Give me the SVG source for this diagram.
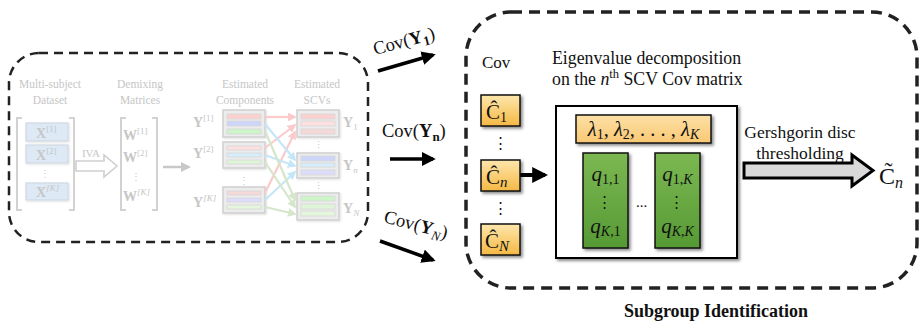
<svg xmlns="http://www.w3.org/2000/svg" width="921" height="322" viewBox="0 0 921 322" font-family="'Liberation Serif', 'Times New Roman', 'DejaVu Serif', serif">
<defs>
<style>
text{font-family:'Liberation Serif','Times New Roman','DejaVu Serif',serif}
.t{fill:#111}
.fa{fill:#c6c6c6}
.dl{fill:none;stroke:#222;stroke-width:2.5;stroke-dasharray:9 6}
.dr{fill:none;stroke:#222;stroke-width:3.5;stroke-dasharray:11 7}
.br{fill:none;stroke:#d2d2d2;stroke-width:2}
.xb{fill:#dde9f5;stroke:#cfd9e3;stroke-width:1.2}
.cb{fill:#ececec;stroke:#d0d0d0;stroke-width:1.5}
.ob{fill:url(#og);stroke:#111;stroke-width:1.5}
.gb{fill:url(#gg);stroke:#111;stroke-width:1.5}
.ka{stroke:#000;stroke-width:3.5;fill:none}
</style>
<linearGradient id="og" x1="0" y1="0" x2="0" y2="1"><stop offset="0" stop-color="#fde7ad"/><stop offset="1" stop-color="#f5b843"/></linearGradient>
<linearGradient id="lg" x1="0" y1="0" x2="0" y2="1"><stop offset="0" stop-color="#fde0a6"/><stop offset="1" stop-color="#f9c873"/></linearGradient>
<linearGradient id="gg" x1="0" y1="0" x2="0" y2="1"><stop offset="0" stop-color="#7cb852"/><stop offset="1" stop-color="#569a34"/></linearGradient>
<filter id="sh" x="-20%" y="-20%" width="150%" height="150%"><feDropShadow dx="2" dy="2" stdDeviation="1.5" flood-color="#000" flood-opacity="0.45"/></filter>
<filter id="sl" x="-20%" y="-20%" width="150%" height="150%"><feDropShadow dx="1" dy="1" stdDeviation="1.2" flood-color="#000" flood-opacity="0.12"/></filter>
<marker id="ah" viewBox="0 0 10 10" refX="8" refY="5" markerWidth="4" markerHeight="4" orient="auto"><path d="M0,0 L10,5 L0,10 z" fill="#000"/></marker>
<marker id="mr" viewBox="0 0 10 10" refX="8" refY="5" markerWidth="4" markerHeight="4" orient="auto"><path d="M0,0 L10,5 L0,10 z" fill="#fbcaca"/></marker>
<marker id="mb" viewBox="0 0 10 10" refX="8" refY="5" markerWidth="4" markerHeight="4" orient="auto"><path d="M0,0 L10,5 L0,10 z" fill="#c5e6f8"/></marker>
<marker id="mg" viewBox="0 0 10 10" refX="8" refY="5" markerWidth="4" markerHeight="4" orient="auto"><path d="M0,0 L10,5 L0,10 z" fill="#d5e6cb"/></marker>
<marker id="mgr" viewBox="0 0 10 10" refX="8" refY="5" markerWidth="4" markerHeight="4" orient="auto"><path d="M0,0 L10,5 L0,10 z" fill="#c8c8c8"/></marker>
</defs>
<rect width="921" height="322" fill="#fff"/>

<g id="pipeline">
<rect class="dl" x="9" y="53" width="359" height="189" rx="30"/>
<g id="dataset">
<text class="fa" x="50" y="88" font-size="11.5" text-anchor="middle">Multi-subject</text>
<text class="fa" x="50" y="104" font-size="11.5" text-anchor="middle">Dataset</text>
<path class="br" d="M22,118 H17 V210 H22 M69,118 H74 V210 H69"/>
<g filter="url(#sl)">
<rect class="xb" x="26" y="123" width="42" height="18"/>
<rect class="xb" x="26" y="145" width="42" height="18"/>
<rect class="xb" x="26" y="183" width="42" height="17"/>
</g>
<text class="fa" x="36" y="138" font-size="14" font-weight="bold">X<tspan font-size="9" font-weight="normal" dy="-6">[1]</tspan></text>
<text class="fa" x="36" y="160" font-size="14" font-weight="bold">X<tspan font-size="9" font-weight="normal" dy="-6">[2]</tspan></text>
<text class="fa" x="36" y="197" font-size="14" font-weight="bold">X<tspan font-size="9" font-weight="normal" font-style="italic" dy="-6">[K]</tspan></text>
<text class="fa" x="45" y="177" font-size="10" text-anchor="middle">⋮</text>
</g>
<g id="iva">
<text class="fa" x="91" y="157" font-size="11" text-anchor="middle">IVA</text>
<path d="M76,161 H104 V155 L117,166 L104,177 V171 H76 Z" fill="#fff" stroke="#cfcfcf" stroke-width="1.6"/>
</g>
<g id="demixing">
<text class="fa" x="140" y="88" font-size="11.5" text-anchor="middle">Demixing</text>
<text class="fa" x="140" y="104" font-size="11.5" text-anchor="middle">Matrices</text>
<path class="br" d="M126,118 H121 V210 H126 M152,118 H157 V210 H152"/>
<text class="fa" x="123" y="140" font-size="14" font-weight="bold">W<tspan font-size="9" font-weight="normal" dy="-6">[1]</tspan></text>
<text class="fa" x="123" y="162" font-size="14" font-weight="bold">W<tspan font-size="9" font-weight="normal" dy="-6">[2]</tspan></text>
<text class="fa" x="136" y="180" font-size="10" text-anchor="middle">⋮</text>
<text class="fa" x="123" y="201" font-size="14" font-weight="bold">W<tspan font-size="9" font-weight="normal" font-style="italic" dy="-6">[K]</tspan></text>
</g>
<line x1="163" y1="167" x2="189" y2="167" stroke="#c8c8c8" stroke-width="2.5" marker-end="url(#mgr)"/>
<g id="components">
<text class="fa" x="245" y="88" font-size="11.5" text-anchor="middle">Estimated</text>
<text class="fa" x="245" y="104" font-size="11.5" text-anchor="middle">Components</text>
<text class="fa" x="193" y="127" font-size="14" font-weight="bold">Y<tspan font-size="9" font-weight="normal" dy="-6">[1]</tspan></text>
<text class="fa" x="193" y="158" font-size="14" font-weight="bold">Y<tspan font-size="9" font-weight="normal" dy="-6">[2]</tspan></text>
<text class="fa" x="193" y="207" font-size="14" font-weight="bold">Y<tspan font-size="9" font-weight="normal" font-style="italic" dy="-6">[K]</tspan></text>
<text class="fa" x="244" y="184" font-size="10" text-anchor="middle">⋮</text>
<g filter="url(#sl)">
<rect class="cb" x="223" y="110" width="42" height="27"/>
<rect class="cb" x="223" y="142" width="42" height="26"/>
<rect class="cb" x="223" y="187" width="42" height="26"/>
</g>
<g stroke="#d6d6d6" stroke-width="0.8">
<rect x="227" y="114" width="34" height="5" fill="#fcd0cf"/>
<rect x="227" y="121" width="34" height="5" fill="#cdd6fa"/>
<rect x="227" y="129" width="34" height="5" fill="#cdf5c8"/>
<rect x="227" y="146" width="34" height="4" fill="#fde0df"/>
<rect x="227" y="153" width="34" height="4" fill="#d6eefb"/>
<rect x="227" y="160" width="34" height="4" fill="#dff5d8"/>
<rect x="227" y="191" width="34" height="4" fill="#f5d8d8"/>
<rect x="227" y="198" width="34" height="4" fill="#dcdcfb"/>
<rect x="227" y="205" width="34" height="4" fill="#e4f7dc"/>
</g>
</g>
<g id="scvs">
<text class="fa" x="317" y="88" font-size="11.5" text-anchor="middle">Estimated</text>
<text class="fa" x="317" y="104" font-size="11.5" text-anchor="middle">SCVs</text>
<g filter="url(#sl)">
<rect class="cb" x="297" y="110" width="42" height="27"/>
<rect class="cb" x="297" y="153" width="42" height="25"/>
<rect class="cb" x="297" y="193" width="42" height="27"/>
</g>
<g stroke="#d6d6d6" stroke-width="0.8">
<rect x="301" y="114" width="34" height="5" fill="#fcd0cf"/>
<rect x="301" y="121" width="34" height="5" fill="#fde0df"/>
<rect x="301" y="129" width="34" height="5" fill="#f5d8d8"/>
<rect x="301" y="156" width="34" height="5" fill="#cdd6fa"/>
<rect x="301" y="163" width="34" height="4" fill="#d6eefb"/>
<rect x="301" y="170" width="34" height="5" fill="#dcdcfb"/>
<rect x="301" y="196" width="34" height="5" fill="#cdf5c8"/>
<rect x="301" y="204" width="34" height="5" fill="#dff5d8"/>
<rect x="301" y="211" width="34" height="5" fill="#e4f7dc"/>
</g>
<text class="fa" x="318" y="148" font-size="9" text-anchor="middle">⋮</text>
<text class="fa" x="318" y="189" font-size="9" text-anchor="middle">⋮</text>
<text class="fa" x="343" y="127" font-size="14" font-weight="bold">Y<tspan font-size="9" font-weight="normal" dy="3">1</tspan></text>
<text class="fa" x="343" y="170" font-size="14" font-weight="bold">Y<tspan font-size="9" font-weight="normal" font-style="italic" dy="3">n</tspan></text>
<text class="fa" x="343" y="213" font-size="14" font-weight="bold">Y<tspan font-size="9" font-weight="normal" font-style="italic" dy="3">N</tspan></text>
</g>
</g>

<g id="faded-connectors" stroke-width="2.2" fill="none">
<line x1="265" y1="117" x2="295" y2="117" stroke="#fbcaca" marker-end="url(#mr)"/>
<line x1="265" y1="148" x2="295" y2="125" stroke="#fbcaca" marker-end="url(#mr)"/>
<line x1="265" y1="193" x2="295" y2="132" stroke="#fbcaca" marker-end="url(#mr)"/>
<line x1="265" y1="124" x2="295" y2="160" stroke="#c5e6f8" marker-end="url(#mb)"/>
<line x1="265" y1="155" x2="295" y2="166" stroke="#c5e6f8" marker-end="url(#mb)"/>
<line x1="265" y1="200" x2="295" y2="172" stroke="#c5e6f8" marker-end="url(#mb)"/>
<line x1="265" y1="131" x2="295" y2="200" stroke="#d5e6cb" marker-end="url(#mg)"/>
<line x1="265" y1="162" x2="295" y2="207" stroke="#d5e6cb" marker-end="url(#mg)"/>
<line x1="265" y1="207" x2="295" y2="214" stroke="#d5e6cb" marker-end="url(#mg)"/>
</g>

<rect class="dr" x="466" y="12" width="451" height="276" rx="45"/>
<text class="t" x="716" y="317" font-size="18" font-weight="bold" text-anchor="middle">Subgroup Identification</text>

<g id="connectors">
<line class="ka" x1="378" y1="71" x2="433" y2="55" marker-end="url(#ah)"/>
<line class="ka" x1="390" y1="159" x2="433" y2="159" marker-end="url(#ah)"/>
<line class="ka" x1="380" y1="241" x2="433" y2="260" marker-end="url(#ah)"/>
<line x1="520" y1="175" x2="545" y2="175" stroke="#000" stroke-width="4" marker-end="url(#ah)"/>
<path d="M744,163 H852 V155 L873,170.5 L852,186 V178 H744 Z" fill="#d9d9d9" stroke="#000" stroke-width="3" stroke-linejoin="miter"/>
</g>

<text class="t" font-size="18.5" transform="translate(375,55) rotate(-15)">Cov(<tspan font-weight="bold">Y</tspan><tspan font-size="13" font-weight="bold" dy="4">1</tspan><tspan dy="-4">)</tspan></text>
<text class="t" font-size="18.5" x="382" y="137">Cov(<tspan font-weight="bold">Y</tspan><tspan font-size="13" font-weight="bold" dy="4">n</tspan><tspan dy="-4">)</tspan></text>
<text class="t" font-size="18.5" transform="translate(383,222) rotate(15)">Cov(<tspan font-weight="bold">Y</tspan><tspan font-size="13" font-style="italic" dy="4">N</tspan><tspan dy="-4">)</tspan></text>

<text class="t" x="482" y="68" font-size="17">Cov</text>

<g id="c1"><rect class="ob" x="481" y="95" width="39" height="31" filter="url(#sh)"/><text class="t" x="486" y="119" font-size="21">Ĉ<tspan font-size="14" dy="3">1</tspan></text></g>
<text class="t" x="500" y="148" font-size="15" text-anchor="middle">⋮</text>
<g id="cn"><rect class="ob" x="481" y="160" width="39" height="31" filter="url(#sh)"/><text class="t" x="486" y="184" font-size="21">Ĉ<tspan font-size="15" font-style="italic" dy="3">n</tspan></text></g>
<text class="t" x="500" y="213" font-size="15" text-anchor="middle">⋮</text>
<g id="cN"><rect class="ob" x="481" y="224" width="39" height="31" filter="url(#sh)"/><text class="t" x="485" y="248" font-size="21">Ĉ<tspan font-size="15" font-style="italic" dy="3">N</tspan></text></g>

<text class="t" x="552" y="64" font-size="17.8">Eigenvalue decomposition</text>
<text class="t" x="552" y="85" font-size="17.8">on the <tspan font-style="italic">n</tspan><tspan font-size="12.5" dy="-7">th</tspan><tspan dy="7"> SCV Cov matrix</tspan></text>

<g id="eig">
<rect x="556" y="106" width="181" height="152" fill="#fff" stroke="#000" stroke-width="2" filter="url(#sh)"/>
<rect x="576" y="115" width="135" height="28" fill="url(#lg)" stroke="#111" stroke-width="1.5" filter="url(#sh)"/>
<text class="t" x="643.5" y="136" font-size="20.5" text-anchor="middle"><tspan font-style="italic">λ</tspan><tspan font-size="14" dy="3">1</tspan><tspan dy="-3">, </tspan><tspan font-style="italic">λ</tspan><tspan font-size="14" dy="3">2</tspan><tspan dy="-3">, . . . , </tspan><tspan font-style="italic">λ</tspan><tspan font-size="14" font-style="italic" dy="3">K</tspan></text>
<rect class="gb" x="583" y="153" width="45" height="95" filter="url(#sh)"/>
<rect class="gb" x="655" y="153" width="45" height="95" filter="url(#sh)"/>
<text class="t" x="605.5" y="181" font-size="21" text-anchor="middle"><tspan font-style="italic">q</tspan><tspan font-size="14" dy="3">1,1</tspan></text>
<text class="t" x="604" y="207" font-size="15" text-anchor="middle">⋮</text>
<text class="t" x="605.5" y="233" font-size="21" text-anchor="middle"><tspan font-style="italic">q</tspan><tspan font-size="14" dy="3"><tspan font-style="italic">K</tspan>,1</tspan></text>
<text class="t" x="677.5" y="181" font-size="21" text-anchor="middle"><tspan font-style="italic">q</tspan><tspan font-size="14" dy="3">1,<tspan font-style="italic">K</tspan></tspan></text>
<text class="t" x="676" y="207" font-size="15" text-anchor="middle">⋮</text>
<text class="t" x="677.5" y="233" font-size="21" text-anchor="middle"><tspan font-style="italic">q</tspan><tspan font-size="14" dy="3"><tspan font-style="italic">K</tspan>,<tspan font-style="italic">K</tspan></tspan></text>
<text class="t" x="641.5" y="207" font-size="15" text-anchor="middle">...</text>
</g>

<text class="t" x="800" y="138" font-size="17.5" text-anchor="middle">Gershgorin disc</text>
<text class="t" x="800" y="159" font-size="17.5" text-anchor="middle">thresholding</text>
<g id="ctilde"><text class="t" x="879" y="184" font-size="24">C̃<tspan font-size="16" font-style="italic" dy="4">n</tspan></text></g>
</svg>
